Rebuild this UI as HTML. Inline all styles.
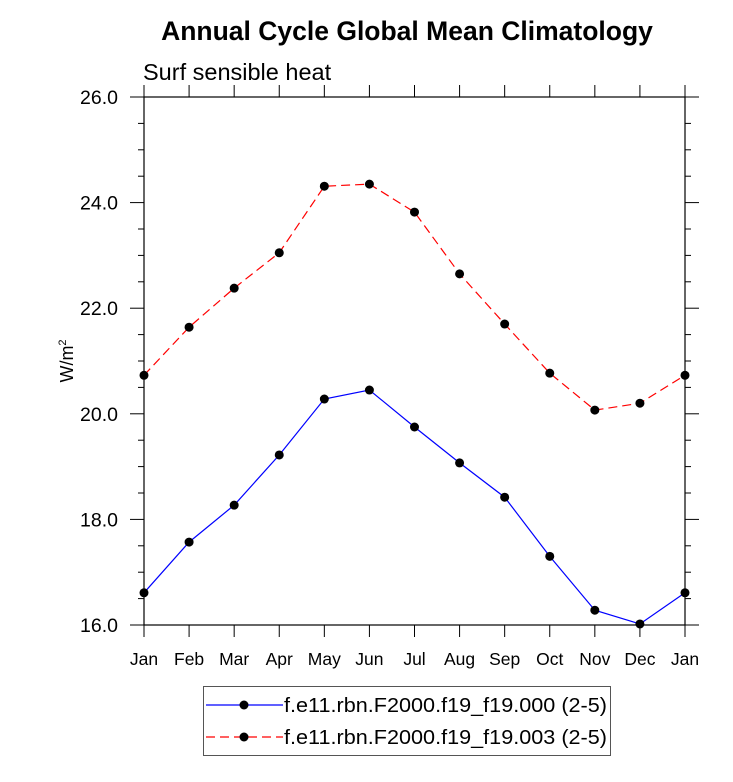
<!DOCTYPE html>
<html><head><meta charset="utf-8"><style>
body{margin:0;background:#fff;}
svg text{font-family:"Liberation Sans",Arial,sans-serif;fill:#000;}
</style></head><body>
<svg id="chart" width="733" height="777" xmlns="http://www.w3.org/2000/svg">
<text x="407" y="40" font-size="26.5" font-weight="bold" text-anchor="middle">Annual Cycle Global Mean Climatology</text>
<text x="143" y="80" font-size="23.5">Surf sensible heat</text>
<text transform="translate(73,361) rotate(-90)" font-size="18" text-anchor="middle">W/m<tspan font-size="11" dy="-7">2</tspan></text>
<g id="axes"></g>
<g id="series"></g>
<g>
<rect x="203.5" y="686.5" width="407" height="69" fill="none" stroke="#555" stroke-width="1"/>
<line x1="206" y1="705" x2="283" y2="705" stroke="#0000ff" stroke-width="1.2"/>
<circle cx="244" cy="705" r="4.5" fill="#000"/>
<text x="284" y="712" font-size="20.5" textLength="323" lengthAdjust="spacingAndGlyphs">f.e11.rbn.F2000.f19_f19.000 (2-5)</text>
<line x1="206" y1="737" x2="283" y2="737" stroke="#ff0000" stroke-width="1.2" stroke-dasharray="9,5"/>
<circle cx="244" cy="737" r="4.5" fill="#000"/>
<text x="284" y="744" font-size="20.5" textLength="323" lengthAdjust="spacingAndGlyphs">f.e11.rbn.F2000.f19_f19.003 (2-5)</text>
</g>
</svg>
<script>
const months=["Jan","Feb","Mar","Apr","May","Jun","Jul","Aug","Sep","Oct","Nov","Dec","Jan"];
const series000=[16.61,17.57,18.27,19.22,20.28,20.45,19.75,19.07,18.42,17.30,16.28,16.02,16.61];
const series003=[20.73,21.64,22.38,23.05,24.31,24.35,23.82,22.65,21.70,20.77,20.07,20.20,20.73];
const yTicks=[16,18,20,22,24,26];
const yTickLabels=["16.0","18.0","20.0","22.0","24.0","26.0"];
const X0=144,X1=685,Y0=625,Y1=97,ymin=16,ymax=26;
const xs=i=>X0+(X1-X0)*i/(months.length-1);
const ys=v=>Y0-(v-ymin)/(ymax-ymin)*(Y0-Y1);
const NS="http://www.w3.org/2000/svg";
function mk(t,a,p){const e=document.createElementNS(NS,t);for(const k in a)e.setAttribute(k,a[k]);p.appendChild(e);return e;}
const ax=document.getElementById('axes');
const frame=mk('rect',{x:X0,y:Y1,width:X1-X0,height:Y0-Y1,fill:'none',stroke:'#000','stroke-width':1.2},ax);


months.forEach((m,i)=>{const x=xs(i);
mk('line',{x1:x,y1:Y0,x2:x,y2:Y0+12,stroke:'#000'},ax);
mk('line',{x1:x,y1:Y1,x2:x,y2:Y1-12,stroke:'#000'},ax);
const t=mk('text',{x:x,y:665,'font-size':17.5,'text-anchor':'middle'},ax);t.textContent=m;

});
for(let v=ymin;v<=ymax+1e-9;v+=0.5){const y=ys(v);const major=Math.abs(v/2-Math.round(v/2))<1e-9;const L=major?14:6;
mk('line',{x1:X0,y1:y,x2:X0-L,y2:y,stroke:'#000'},ax);
mk('line',{x1:X1,y1:y,x2:X1+L,y2:y,stroke:'#000'},ax);}
yTicks.forEach((v,i)=>{const t=mk('text',{x:118,y:ys(v)+7,'font-size':19.5,'text-anchor':'end'},ax);t.textContent=yTickLabels[i];

});
const sg=document.getElementById('series');
function draw(data,color,dash,name){
const p=mk('polyline',{points:data.map((v,i)=>xs(i)+','+ys(v)).join(' '),fill:'none',stroke:color,'stroke-width':1.2,'stroke-dasharray':dash},sg);


data.forEach((v,i)=>{const c=mk('circle',{cx:xs(i),cy:ys(v),r:4.5,fill:'#000'},sg);

});}
draw(series003,'#ff0000','9,5','series-003');
draw(series000,'#0000ff','none','series-000');
</script>
</body></html>
